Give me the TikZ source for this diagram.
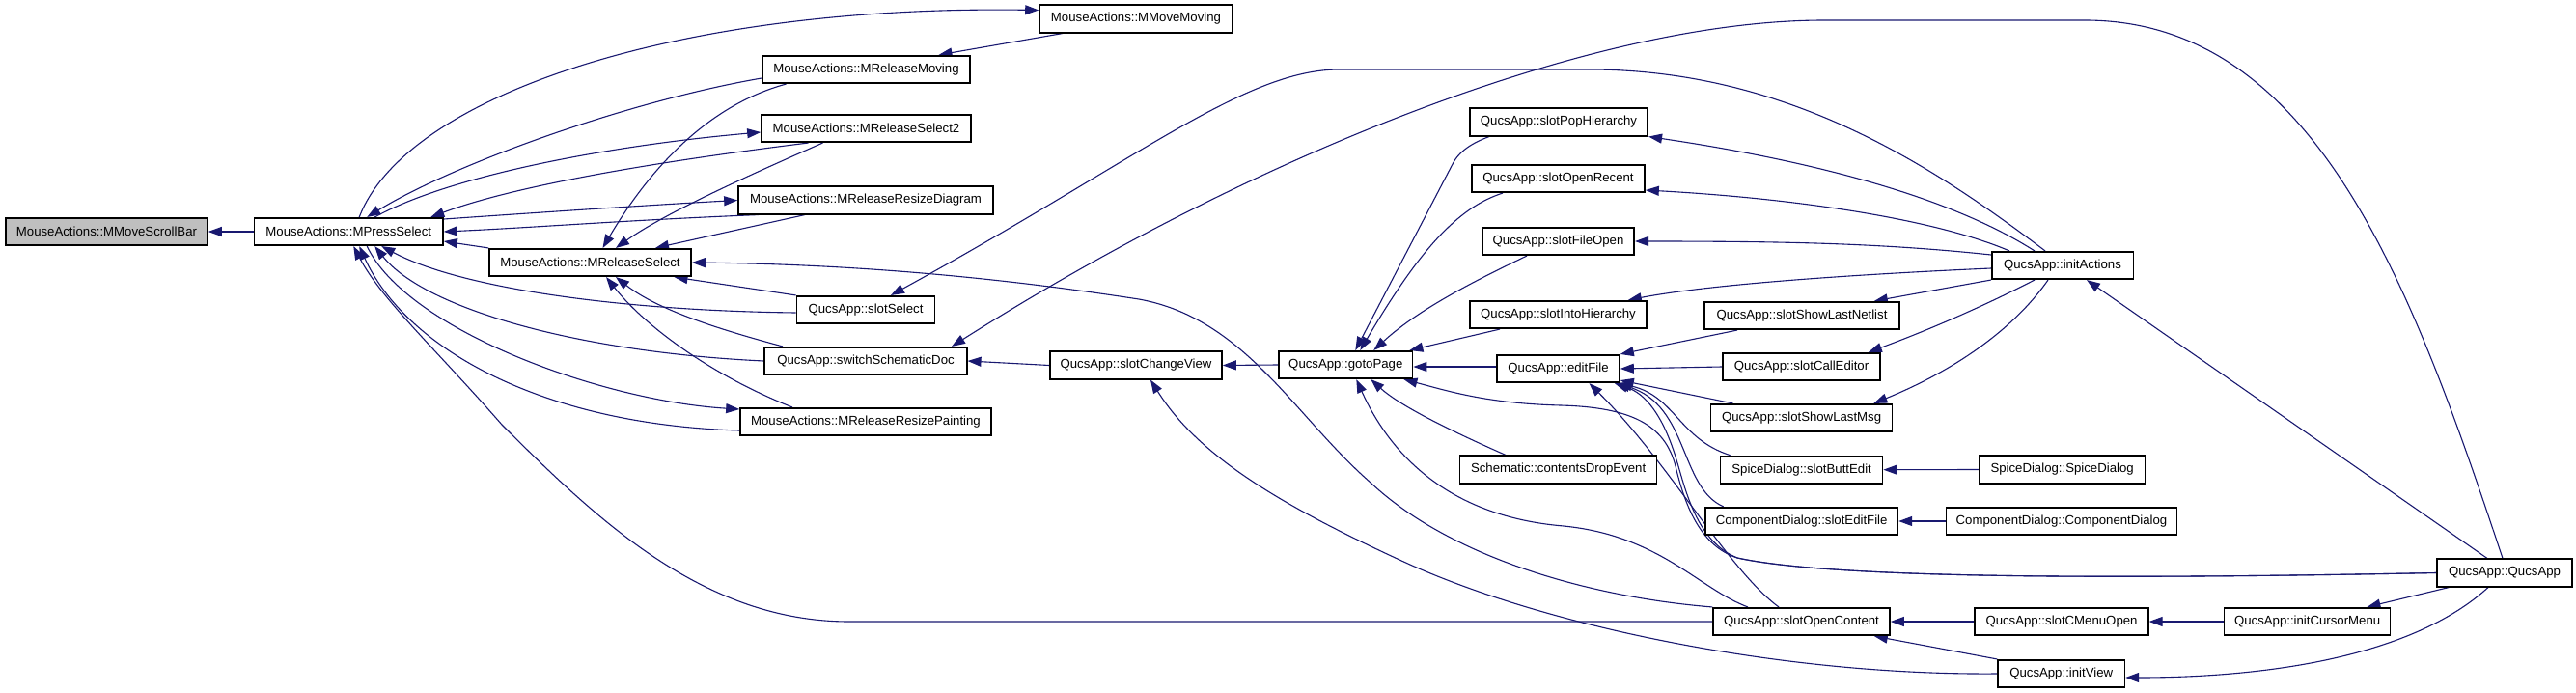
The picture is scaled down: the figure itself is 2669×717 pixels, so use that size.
\documentclass[tikz,border=0pt]{standalone}
\usepackage{fontspec}
\setmainfont{Liberation Sans}
\usetikzlibrary{arrows.meta,backgrounds}
\definecolor{edgec}{RGB}{25,25,112}
\definecolor{hil}{RGB}{191,191,191}
\tikzset{
  x=0.5pt,y=-0.5pt,
  fn/.style={draw=black, line width=0.8pt, fill=white, inner sep=0pt,
    minimum height=14.25pt, font=\fontsize{6.6}{8}\selectfont, anchor=center},
  e/.style={draw=edgec, line width=0.55pt, -{Triangle[length=7pt,width=5pt]}}
}
\begin{document}
\begin{tikzpicture}
\useasboundingbox (0,0) rectangle (2669,717);
% nodes
\node[fn,fill=hil,minimum width=104.5pt] (scroll) at (110.5,240) {MouseActions::MMoveScrollBar};
\node[fn,minimum width=97.75pt] (press) at (361.25,240) {MouseActions::MPressSelect};
\node[fn,minimum width=104.5pt] (relsel) at (611.5,272) {MouseActions::MReleaseSelect};
\node[fn,minimum width=107.5pt] (relmov) at (897.5,72) {MouseActions::MReleaseMoving};
\node[fn,minimum width=108.5pt] (relsel2) at (897.5,133) {MouseActions::MReleaseSelect2};
\node[fn,minimum width=132pt] (resdiag) at (897,207.5) {MouseActions::MReleaseResizeDiagram};
\node[fn,minimum width=71.5pt] (slotsel) at (897,321) {QucsApp::slotSelect};
\node[fn,minimum width=104.75pt] (switchdoc) at (897,374) {QucsApp::switchSchematicDoc};
\node[fn,minimum width=130pt] (respaint) at (897,437) {MouseActions::MReleaseResizePainting};
\node[fn,minimum width=100pt] (mmove) at (1177,19.5) {MouseActions::MMoveMoving};
\node[fn,minimum width=89pt] (changeview) at (1177,378.5) {QucsApp::slotChangeView};
\node[fn,minimum width=69.3pt] (gotopage) at (1394.3,378) {QucsApp::gotoPage};
\node[fn,minimum width=63.5pt] (editfile) at (1614.5,382) {QucsApp::editFile};
\node[fn,minimum width=92.25pt] (pophier) at (1615,126.5) {QucsApp::slotPopHierarchy};
\node[fn,minimum width=89.5pt] (openrecent) at (1614.5,185) {QucsApp::slotOpenRecent};
\node[fn,minimum width=78.75pt] (fileopen) at (1614.5,250) {QucsApp::slotFileOpen};
\node[fn,minimum width=91.5pt] (intohier) at (1614.5,326) {QucsApp::slotIntoHierarchy};
\node[fn,minimum width=101pt] (shownetlist) at (1867,327) {QucsApp::slotShowLastNetlist};
\node[fn,minimum width=81.5pt] (calleditor) at (1866.5,380) {QucsApp::slotCallEditor};
\node[fn,minimum width=94pt] (showlastmsg) at (1866.6,433) {QucsApp::slotShowLastMsg};
\node[fn,minimum width=84pt] (buttedit) at (1866.6,486.7) {SpiceDialog::slotButtEdit};
\node[fn,minimum width=99.7pt] (editfileCD) at (1866.7,540) {ComponentDialog::slotEditFile};
\node[fn,minimum width=102pt] (contentsdrop) at (1614.6,486.5) {Schematic::contentsDropEvent};
\node[fn,minimum width=91.5pt] (opencontent) at (1866.5,644) {QucsApp::slotOpenContent};
\node[fn,minimum width=73.3pt] (initactions) at (2137,275) {QucsApp::initActions};
\node[fn,minimum width=86pt] (spicedlg) at (2136.6,486.5) {SpiceDialog::SpiceDialog};
\node[fn,minimum width=119.5pt] (compdlg) at (2136,540) {ComponentDialog::ComponentDialog};
\node[fn,minimum width=69.85pt] (qucsapp) at (2595,593.5) {QucsApp::QucsApp};
\node[fn,minimum width=89.85pt] (cmenuopen) at (2136,644) {QucsApp::slotCMenuOpen};
\node[fn,minimum width=86pt] (initcursormenu) at (2390.6,644) {QucsApp::initCursorMenu};
\node[fn,minimum width=65.7pt] (initview) at (2135.7,698) {QucsApp::initView};
% edges
\begin{pgfonlayer}{background}
\draw[e] (press.west) -- (scroll.east);
\draw[e] (relsel.north west) -- ([shift={(0,10)}]press.east);
\draw[e] ([shift={(0,9)}]relmov.west) .. controls (650,105) and (470,170) .. ([shift={(19,0)}]press.north);
\draw[e] ([shift={(11,0)}]press.north) .. controls (420,100) and (700,5) .. ([shift={(0,-9)}]mmove.west);
\draw[e] ([shift={(-76,0)}]mmove.south) -- ([shift={(75,0)}]relmov.north);
\draw[e] ([shift={(27,0)}]press.north) .. controls (470,180) and (640,150) .. ([shift={(0,4)}]relsel2.west);
\draw[e] ([shift={(-60,0)}]relsel2.south) .. controls (700,165) and (540,190) .. ([shift={(85,0)}]press.north);
\draw[e] ([shift={(0,-13)}]press.east) .. controls (560,220) and (680,212) .. (resdiag.west);
\draw[e] ([shift={(-111,0)}]resdiag.south) .. controls (650,228) and (550,236) .. (press.east);
\draw[e] ([shift={(-83,0)}]relmov.south) .. controls (730,110) and (670,180) .. ([shift={(13,0)}]relsel.north);
\draw[e] ([shift={(-45,0)}]relsel2.south) .. controls (780,180) and (690,220) .. ([shift={(26.5,0)}]relsel.north);
\draw[e] ([shift={(-63,0)}]resdiag.south) -- ([shift={(67.5,0)}]relsel.north);
\draw[e] (slotsel.north west) -- ([shift={(87,0)}]relsel.south);
\draw[e] ([shift={(0,3)}]slotsel.west) .. controls (650,322) and (480,300) .. ([shift={(34,0)}]press.south);
\draw[e] ([shift={(-86,0)}]switchdoc.north) .. controls (740,340) and (680,320) .. ([shift={(26.5,0)}]relsel.south);
\draw[e] (switchdoc.west) .. controls (600,365) and (440,320) .. ([shift={(27,0)}]press.south);
\draw[e] ([shift={(19,0)}]press.south) .. controls (420,340) and (620,415) .. ([shift={(0,-13)}]respaint.west);
\draw[e] ([shift={(0,9)}]respaint.west) .. controls (560,440) and (420,360) .. ([shift={(11,0)}]press.south);
\draw[e] ([shift={(-76,0)}]respaint.north) .. controls (740,390) and (670,340) .. ([shift={(16.5,0)}]relsel.south);
\draw[e] (opencontent.west) -- (880,644) .. controls (730,644) and (620,540) .. (520,440) .. controls (450,360) and (395,310) .. ([shift={(5,0)}]press.south);
\draw[e] (opencontent.north west) .. controls (1640,618) and (1500,575) .. (1420,500) .. controls (1340,430) and (1290,330) .. (1180,310) .. controls (1050,290) and (900,274) .. (relsel.east);
\draw[e] ([shift={(-18,0)}]initactions.north) .. controls (2000,170) and (1850,72) .. (1646,72) -- (1388,72) .. controls (1290,72) and (1180,165) .. ([shift={(26,0)}]slotsel.north);
\draw[e] ([shift={(-2,0)}]qucsapp.north) .. controls (2500,300) and (2400,21) .. (2160,21) -- (1890,21) .. controls (1650,21) and (1300,160) .. ([shift={(89,0)}]switchdoc.north);
\draw[e] ([shift={(-29,0)}]initactions.north) .. controls (2030,210) and (1900,170) .. (pophier.south east);
\draw[e] ([shift={(-55,0)}]initactions.north) .. controls (2000,225) and (1850,205) .. ([shift={(0,12)}]openrecent.east);
\draw[e] ([shift={(0,-11)}]initactions.west) .. controls (1950,252) and (1850,250) .. (fileopen.east);
\draw[e] ([shift={(0,3)}]initactions.west) .. controls (1950,283) and (1780,293) .. ([shift={(-20,0)}]intohier.north east);
\draw[e] (initactions.south west) -- ([shift={(-27,0)}]shownetlist.north east);
\draw[e] ([shift={(-29,0)}]initactions.south) .. controls (2050,320) and (1990,345) .. ([shift={(-13,0)}]calleditor.north east);
\draw[e] ([shift={(-15,0)}]initactions.south) .. controls (2080,350) and (2010,390) .. ([shift={(-20,0)}]showlastmsg.north east);
\draw[e] ([shift={(-18,0)}]qucsapp.north) -- ([shift={(25,0)}]initactions.south);
\draw[e] ([shift={(-67,0)}]shownetlist.south) -- (editfile.north east);
\draw[e] (calleditor.west) -- (editfile.east);
\draw[e] ([shift={(-71,0)}]showlastmsg.north) -- ([shift={(0,-3)}]editfile.south east);
\draw[e] ([shift={(-74,0)}]buttedit.north) .. controls (1740,455) and (1735,410) .. ([shift={(-2,0)}]editfile.south east);
\draw[e] ([shift={(-81,0)}]editfileCD.north) .. controls (1740,505) and (1750,420) .. ([shift={(-4,0)}]editfile.south east);
\draw[e] ([shift={(-23.5,0)}]opencontent.north) .. controls (1790,590) and (1730,480) .. ([shift={(32,0)}]editfile.south);
\draw[e] (qucsapp.west) .. controls (2200,600) and (1900,600) .. (1800,578) .. controls (1755,560) and (1745,500) .. (1735,470) .. controls (1722,430) and (1705,408) .. ([shift={(-6,0)}]editfile.south east);
\draw[e] (qucsapp.west) .. controls (2200,600) and (1900,600) .. (1800,578) .. controls (1760,565) and (1745,520) .. (1736,483) .. controls (1725,440) and (1690,422) .. (1617,420) .. controls (1540,418) and (1500,405) .. ([shift={(-10,0)}]gotopage.south east);
\draw[e] ([shift={(0,-2)}]editfile.west) -- ([shift={(0,2)}]gotopage.east);
\draw[e] (gotopage.west) -- (changeview.east);
\draw[e] (changeview.west) -- (switchdoc.east);
\draw[e] ([shift={(-72,0)}]pophier.south) .. controls (1520,150) and (1510,160) .. (1505,170) -- ([shift={(10,0)}]gotopage.north);
\draw[e] ([shift={(-57.5,0)}]openrecent.south) .. controls (1510,215) and (1470,260) .. ([shift={(15,0)}]gotopage.north);
\draw[e] ([shift={(-32.5,0)}]fileopen.south) .. controls (1530,290) and (1470,320) .. ([shift={(29,0)}]gotopage.north);
\draw[e] ([shift={(-60.5,0)}]intohier.south) -- ([shift={(-4,0)}]gotopage.north east);
\draw[e] ([shift={(-54.6,0)}]contentsdrop.north) .. controls (1500,445) and (1450,420) .. ([shift={(26,0)}]gotopage.south);
\draw[e] ([shift={(-55.5,0)}]opencontent.north) .. controls (1760,610) and (1720,555) .. (1620,545) .. controls (1500,535) and (1440,470) .. ([shift={(11,0)}]gotopage.south);
\draw[e] (initview.west) .. controls (1850,700) and (1600,650) .. (1450,580) .. controls (1320,520) and (1240,470) .. ([shift={(15,0)}]changeview.south);
\draw[e] (initview.north west) -- ([shift={(-17,0)}]opencontent.south east);
\draw[e] (cmenuopen.west) -- (opencontent.east);
\draw[e] (initcursormenu.west) -- (cmenuopen.east);
\draw[e] ([shift={(13,0)}]qucsapp.south west) -- ([shift={(-25,0)}]initcursormenu.north east);
\draw[e] ([shift={(-17,0)}]qucsapp.south) .. controls (2500,680) and (2350,702) .. ([shift={(0,4)}]initview.east);
\draw[e] (spicedlg.west) -- (buttedit.east);
\draw[e] (compdlg.west) -- (editfileCD.east);
\end{pgfonlayer}
\end{tikzpicture}
\end{document}
